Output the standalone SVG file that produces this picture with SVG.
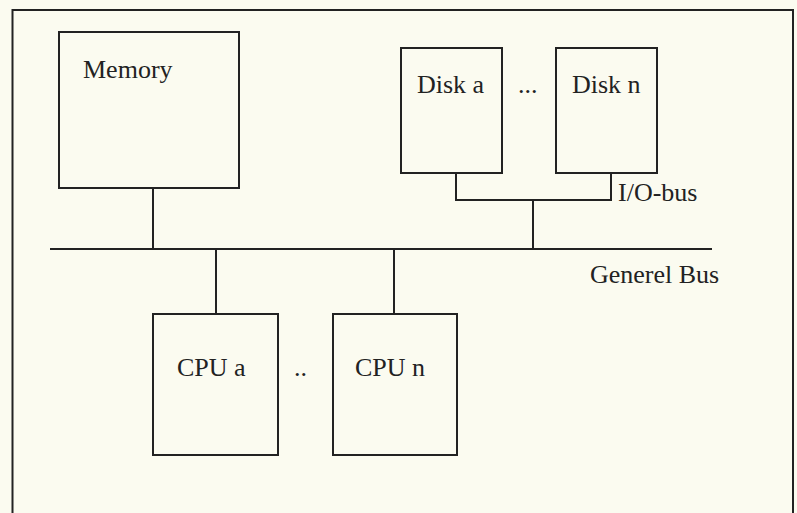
<svg xmlns="http://www.w3.org/2000/svg" width="797" height="513" viewBox="0 0 797 513">
<style>
.box{fill:none;stroke:#222;stroke-width:2}
.ln{fill:none;stroke:#222;stroke-width:2}
text{font-family:"Liberation Serif","Times New Roman",serif;font-size:26px;fill:#222}
</style>
<rect width="797" height="513" fill="#fbfbf0"/>
<path class="ln" d="M12.5,514 V10 H793 V514"/>
<g id="memory"><rect class="box" x="59" y="32" width="180" height="156"/><text x="83" y="78">Memory</text></g>
<g id="disk-a"><rect class="box" x="401" y="48" width="101" height="125"/><text x="417" y="93">Disk a</text></g>
<text x="518" y="93">...</text>
<g id="disk-n"><rect class="box" x="556" y="48" width="101" height="125"/><text x="572" y="93">Disk n</text></g>
<g id="cpu-a"><rect class="box" x="153" y="314" width="125" height="141"/><text x="177" y="376">CPU a</text></g>
<text x="294" y="376">..</text>
<g id="cpu-n"><rect class="box" x="333" y="314" width="124" height="141"/><text x="355" y="376">CPU n</text></g>
<g id="connectors">
<path class="ln" d="M50,249 H712"/>
<path class="ln" d="M153,188 V249"/>
<path class="ln" d="M456,173 V200 H611 V173"/>
<path class="ln" d="M533,200 V249"/>
<path class="ln" d="M216,249 V314"/>
<path class="ln" d="M394,249 V314"/>
</g>
<text x="618" y="201">I/O-bus</text>
<text x="590" y="283">Generel Bus</text>
</svg>
